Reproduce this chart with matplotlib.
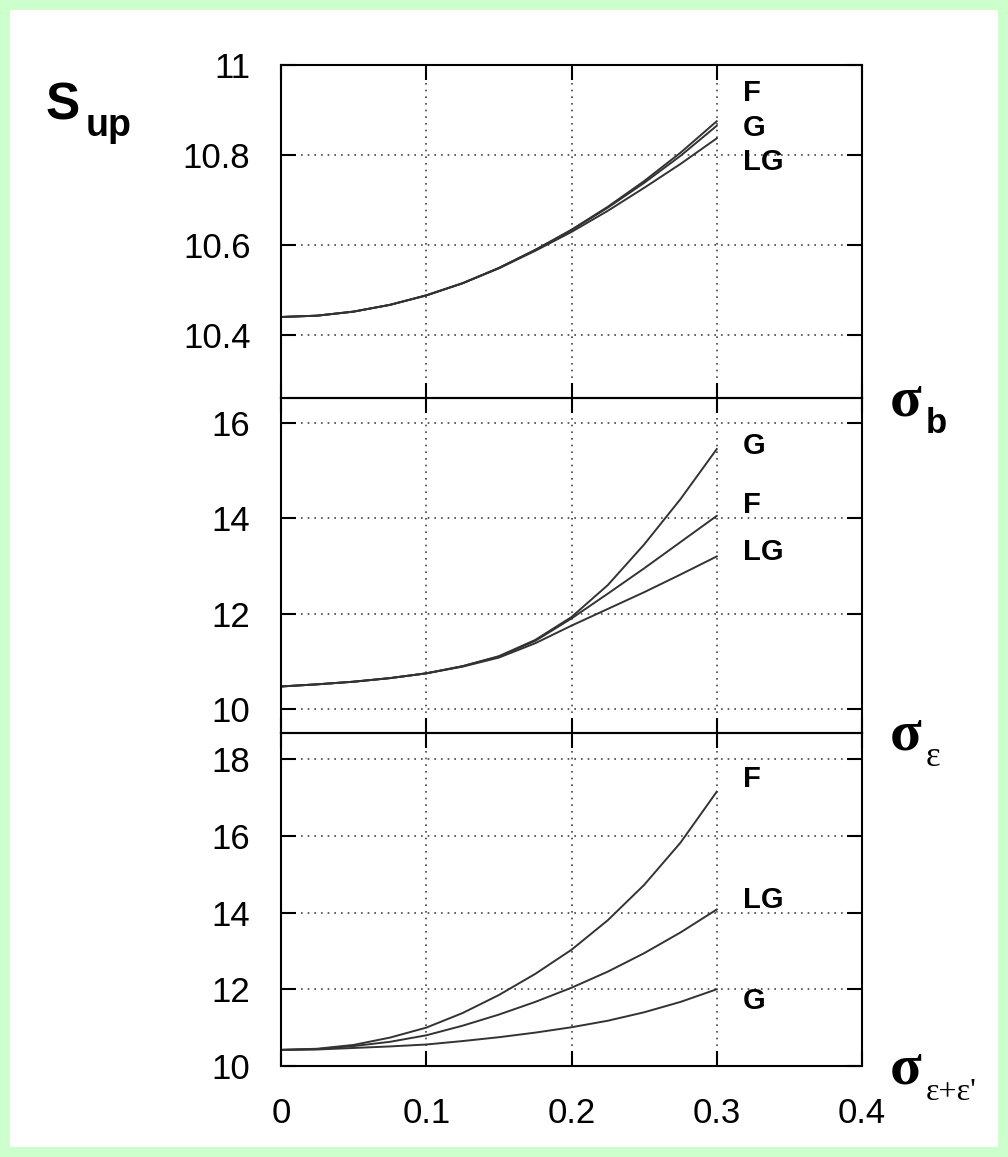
import numpy as np
import matplotlib
matplotlib.use("Agg")
import matplotlib.pyplot as plt
from matplotlib.patches import Rectangle

plt.rcParams["font.family"] = ["Liberation Sans", "DejaVu Sans"]

# smearing width on the x axis
sigma = [0.0, 0.025, 0.05, 0.075, 0.1, 0.125, 0.15, 0.175, 0.2, 0.225, 0.25, 0.275, 0.3]

# S_up vs sigma_b
sb_F = [10.44, 10.443, 10.452, 10.467, 10.488, 10.515, 10.549, 10.589, 10.634, 10.685, 10.742, 10.805, 10.875]
sb_G = [10.44, 10.443, 10.452, 10.467, 10.488, 10.515, 10.549, 10.589, 10.633, 10.683, 10.738, 10.798, 10.865]
sb_LG = [10.44, 10.443, 10.452, 10.467, 10.488, 10.515, 10.548, 10.587, 10.629, 10.676, 10.727, 10.780, 10.837]

# S_up vs sigma_eps
se_F = [10.475, 10.52, 10.575, 10.65, 10.75, 10.90, 11.10, 11.43, 11.90, 12.42, 12.95, 13.50, 14.05]
se_G = [10.475, 10.52, 10.575, 10.65, 10.75, 10.90, 11.11, 11.45, 11.93, 12.60, 13.45, 14.40, 15.45]
se_LG = [10.475, 10.52, 10.575, 10.65, 10.75, 10.89, 11.08, 11.38, 11.75, 12.10, 12.45, 12.82, 13.20]

# S_up vs sigma_eps+eps'
see_F = [10.42, 10.45, 10.55, 10.74, 11.00, 11.38, 11.85, 12.40, 13.03, 13.80, 14.72, 15.82, 17.15]
see_LG = [10.42, 10.44, 10.52, 10.63, 10.80, 11.05, 11.34, 11.67, 12.04, 12.46, 12.94, 13.48, 14.08]
see_G = [10.42, 10.43, 10.47, 10.51, 10.56, 10.65, 10.75, 10.87, 11.01, 11.18, 11.40, 11.67, 12.00]

panels = [
    dict(curves=[sb_F, sb_G, sb_LG], names=["F", "G", "LG"], label_y=[10.937, 10.861, 10.784],
         ylim=(10.26, 11.0), yticks=[10.4, 10.6, 10.8, 11.0], ylabels=["10.4", "10.6", "10.8", "11"]),
    dict(curves=[se_G, se_F, se_LG], names=["G", "F", "LG"], label_y=[15.52, 14.28, 13.30],
         ylim=(9.5, 16.52), yticks=[10, 12, 14, 16], ylabels=["10", "12", "14", "16"]),
    dict(curves=[see_F, see_LG, see_G], names=["F", "LG", "G"], label_y=[17.48, 14.34, 11.69],
         ylim=(10.0, 18.68), yticks=[10, 12, 14, 16, 18], ylabels=["10", "12", "14", "16", "18"]),
]

W, H = 1008, 1157
fig = plt.figure(figsize=(W / 100, H / 100), dpi=100, facecolor="#ccffcc")
fig.patches.append(Rectangle((10 / W, 10 / H), (W - 20) / W, (H - 20) / H,
                             transform=fig.transFigure, facecolor="white", edgecolor="none", zorder=-5))

left, right = 281 / W, 862 / W
edges = [65, 398, 733, 1066]

for i, p in enumerate(panels):
    top = 1 - edges[i] / H
    bot = 1 - edges[i + 1] / H
    ax = fig.add_axes([left, bot, right - left, top - bot])
    ax.set_facecolor("none")
    for ys in p["curves"]:
        ax.plot(sigma, ys, color="#333333", lw=1.4)
    for name, ly in zip(p["names"], p["label_y"]):
        ax.text(0.318, ly, name, fontsize=21, fontweight="bold", ha="left", va="center")
    ax.set_xlim(0, 0.4)
    ax.set_ylim(*p["ylim"])
    ax.set_xticks([0, 0.1, 0.2, 0.3, 0.4])
    ax.set_yticks(p["yticks"])
    ax.set_yticklabels(p["ylabels"])
    ax.grid(True, linestyle=(0, (1, 3)), color="#444444", lw=1.2)
    ax.tick_params(direction="in", length=11, width=1.5, top=True, right=True,
                   labelsize=25, pad=22)
    if i < 2:
        ax.tick_params(labelbottom=False)
    else:
        ax.set_xticklabels(["0", "0.1", "0.2", "0.3", "0.4"])
    for s in ax.spines.values():
        s.set_linewidth(1.5)


def px(x, y):
    return x / W, 1 - y / H


serif = ["Liberation Serif", "DejaVu Serif"]

# y axis label
fig.text(*px(46, 120), "S", fontsize=37, fontweight="bold", va="baseline", ha="left")
fig.text(*px(86, 136), "up", fontsize=27, fontweight="bold", va="baseline", ha="left")

# x axis labels for each panel
fig.text(*px(890, 415), "σ", fontsize=42, fontweight="bold", family=serif, va="baseline", ha="left")
fig.text(*px(926, 433), "b", fontsize=25, fontweight="bold", va="baseline", ha="left")
fig.text(*px(890, 750), "σ", fontsize=42, fontweight="bold", family=serif, va="baseline", ha="left")
fig.text(*px(926, 766), "ε", fontsize=25, family=serif, va="baseline", ha="left")
fig.text(*px(890, 1084), "σ", fontsize=42, fontweight="bold", family=serif, va="baseline", ha="left")
fig.text(*px(926, 1100), "ε+ε'", fontsize=23, family=serif, va="baseline", ha="left")

fig.savefig("out.png", dpi=100, facecolor=fig.get_facecolor())
